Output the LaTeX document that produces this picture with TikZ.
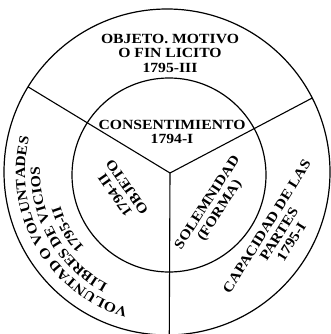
\documentclass[tikz,border=0pt]{standalone}
\usepackage{fontspec}
\newfontfamily\labfont[FakeStretch=1.12]{Liberation Serif}
\usetikzlibrary{decorations.text}
\begin{document}
\begin{tikzpicture}[x=1pt,y=1pt,
  lab/.style={font=\labfont\bfseries\fontsize{14}{14.5}\selectfont, align=center, inner sep=0pt},
  ring/.style={draw, line width=1.2pt},
  spoke/.style={draw, line width=1.1pt},
  curved/.style={decorate, decoration={text along path, text align=center,
     text={|\labfont\bfseries\fontsize{14}{14}\selectfont|#1}}}]
\useasboundingbox (0,0) rectangle (330,-334);
\coordinate (O) at (167,-172);
\coordinate (J) at (170,-173);
\coordinate (I) at (169,-175);
\draw[ring] (O) circle[radius=163];
\draw[ring] (I) circle[radius=97];
\path (O) ++(148.5:163) coordinate (eL);
\path (O) ++(27:163) coordinate (eR);
\path (O) ++(270.8:163) coordinate (eB);
\draw[spoke] (J) -- (eL);
\draw[spoke] (J) -- (eR);
\draw[spoke] (J) -- (eB);
\node[lab] (top) at (170,-53) {OBJETO. MOTIVO\\O FIN LICITO\\1795-III};
\node[lab] (cons) at (172,-132) {CONSENTIMIENTO\\1794-I};
\node[lab, rotate=125] (obj) at (121,-191) {1794-II\\OBJETO};
\node[lab, rotate=57] (sol) at (214,-207) {SOLEMNIDAD\\(FORMA)};
\node[lab, rotate=58] (cap) at (279,-234) {CAPACIDAD DE LAS\\PARTES\\1795-I};
\path (O) ++(255:142) coordinate (s1);
\path (O) ++(255:127) coordinate (s2);
\path (O) ++(255:112) coordinate (s3);
\path[curved={VOLUNTAD O VOLUNTADES}] (s1) arc[start angle=255, end angle=165, radius=142];
\path[curved={LIBRES DE VICIOS}] (s2) arc[start angle=255, end angle=165, radius=127];
\path[curved={1795-II}] (s3) arc[start angle=255, end angle=165, radius=112];
\end{tikzpicture}
\end{document}
